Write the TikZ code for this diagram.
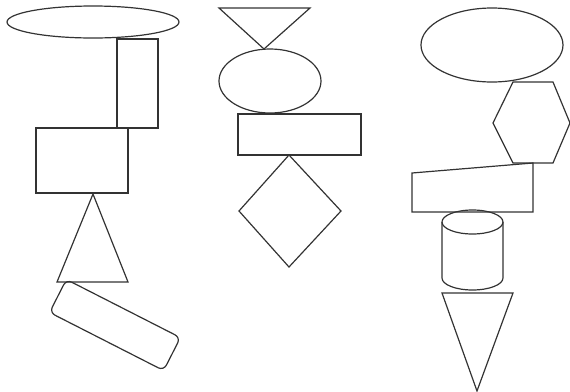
\documentclass[tikz,border=0pt]{standalone}
\begin{document}
\begin{tikzpicture}[x=0.5pt,y=-0.5pt,
		figline/.style={draw=black!80, line width=0.6pt, line join=miter}]
			
			\useasboundingbox (0,0) rectangle (570,392);
			
			% left column: wide ellipse
			\draw[figline] (93,22) ellipse [x radius=43pt, y radius=8pt];
			
			% tall and wide rectangles
			\draw[figline] (117,39) rectangle (158,128);
			\draw[figline] (36,128) rectangle (128,193);
			
			% triangle
			\draw[figline] (93,194) -- (128,282) -- (57,282) -- cycle;
			
			% tilted rounded box
			\begin{scope}[shift={(115,325)}, rotate=-27]
				\draw[figline, rounded corners=3pt] (-64,-18.5) -- (64,-18.5) -- (64,18.5) -- (-64,18.5) -- cycle;
			\end{scope}
			
			% middle column: inverted triangle
			\draw[figline] (219,8) -- (310,8) -- (264,49) -- cycle;
			
			% ellipse
			\draw[figline] (270,81) ellipse [x radius=25.5pt, y radius=16pt];
			
			% rectangle
			\draw[figline] (238,114) rectangle (361,155);
			
			% diamond
			\draw[figline] (289,155) -- (341,211) -- (289,267) -- (239,211) -- cycle;
			
			% right column: ellipse
			\draw[figline] (492,45) ellipse [x radius=35.5pt, y radius=18.5pt];
			
			% hexagon
			\draw[figline] (513,82) -- (553,82) -- (570,123) -- (553,163) -- (513,163) -- (493,123) -- cycle;
			
			% slanted quadrilateral
			\draw[figline] (412,173) -- (533,163) -- (533,212) -- (412,212) -- cycle;
			
			% cylinder
			\draw[figline] (472.5,222) ellipse [x radius=15.25pt, y radius=6pt];
			\draw[figline] (442,222) -- (442,278) arc [start angle=180, end angle=360, x radius=15.25pt, y radius=6pt] -- (503,222);
			
			% lower triangle
			\draw[figline] (442,293) -- (513,293) -- (477,391) -- cycle;
			
		\end{tikzpicture}
\end{document}
